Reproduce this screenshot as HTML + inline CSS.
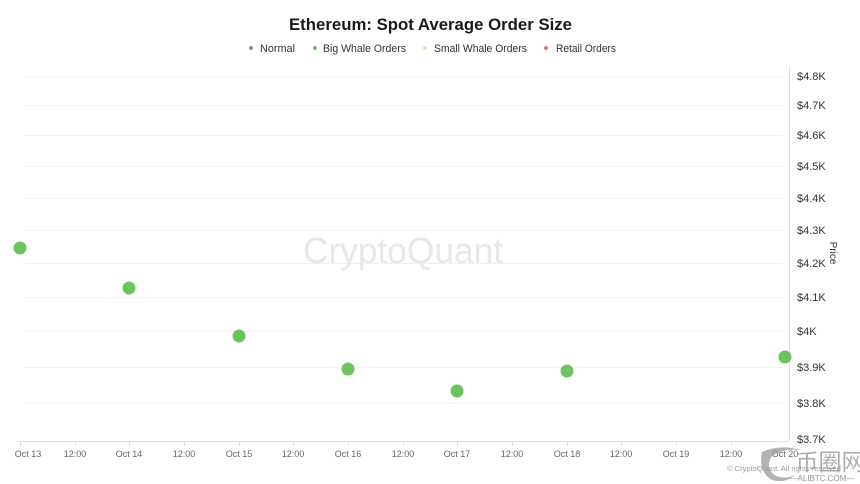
<!DOCTYPE html>
<html>
<head>
<meta charset="utf-8">
<style>
  html, body { margin:0; padding:0; background:#fff; }
  body { width:860px; height:484px; overflow:hidden; }
  svg { display:block; font-family:"Liberation Sans", "Noto Sans CJK SC", sans-serif; }
</style>
</head>
<body>
<svg width="860" height="484" viewBox="0 0 860 484" xmlns="http://www.w3.org/2000/svg">
  <rect width="860" height="484" fill="#ffffff"/>

  <!-- Title -->
  <text x="430.5" y="30" text-anchor="middle" font-size="17" font-weight="bold" fill="#1a1a1a" textLength="283" lengthAdjust="spacingAndGlyphs">Ethereum: Spot Average Order Size</text>

  <!-- Legend -->
  <g font-size="11" fill="#333">
    <circle cx="251" cy="48" r="2" fill="#8a8a8a"/>
    <text x="260" y="52" textLength="35" lengthAdjust="spacingAndGlyphs">Normal</text>
    <circle cx="315" cy="48" r="2" fill="#6cc35f"/>
    <text x="323" y="52" textLength="83" lengthAdjust="spacingAndGlyphs">Big Whale Orders</text>
    <circle cx="425" cy="48" r="2" fill="#efe6a6"/>
    <text x="434" y="52" textLength="93" lengthAdjust="spacingAndGlyphs">Small Whale Orders</text>
    <circle cx="546" cy="48" r="2" fill="#e8776a"/>
    <text x="556" y="52" textLength="60" lengthAdjust="spacingAndGlyphs">Retail Orders</text>
  </g>

  <!-- Gridlines -->
  <g stroke="#f1f1f1" stroke-width="1">
    <line x1="24" y1="76.5" x2="783" y2="76.5"/>
    <line x1="24" y1="105.5" x2="783" y2="105.5"/>
    <line x1="24" y1="135.5" x2="783" y2="135.5"/>
    <line x1="24" y1="166.5" x2="783" y2="166.5"/>
    <line x1="24" y1="198.5" x2="783" y2="198.5"/>
    <line x1="24" y1="230.5" x2="783" y2="230.5"/>
    <line x1="24" y1="263.5" x2="783" y2="263.5"/>
    <line x1="24" y1="297.5" x2="783" y2="297.5"/>
    <line x1="24" y1="331.5" x2="783" y2="331.5"/>
    <line x1="24" y1="367.5" x2="783" y2="367.5"/>
    <line x1="24" y1="403.5" x2="783" y2="403.5"/>
  </g>

  <!-- Watermark -->
  <text x="403" y="263" text-anchor="middle" font-size="36" fill="#e7e7ec" textLength="200" lengthAdjust="spacingAndGlyphs">CryptoQuant</text>

  <!-- Axes -->
  <line x1="789.5" y1="66" x2="789.5" y2="441" stroke="#e0e0e0" stroke-width="1"/>
  <line x1="17" y1="441.5" x2="789" y2="441.5" stroke="#e3e3e3" stroke-width="1"/>

  <!-- X ticks -->
  <g stroke="#e0e0e0" stroke-width="1">
    <line x1="20.5" y1="441" x2="20.5" y2="446"/>
    <line x1="75.5" y1="441" x2="75.5" y2="446"/>
    <line x1="129.5" y1="441" x2="129.5" y2="446"/>
    <line x1="184.5" y1="441" x2="184.5" y2="446"/>
    <line x1="239.5" y1="441" x2="239.5" y2="446"/>
    <line x1="293.5" y1="441" x2="293.5" y2="446"/>
    <line x1="348.5" y1="441" x2="348.5" y2="446"/>
    <line x1="403.5" y1="441" x2="403.5" y2="446"/>
    <line x1="457.5" y1="441" x2="457.5" y2="446"/>
    <line x1="512.5" y1="441" x2="512.5" y2="446"/>
    <line x1="567.5" y1="441" x2="567.5" y2="446"/>
    <line x1="621.5" y1="441" x2="621.5" y2="446"/>
    <line x1="676.5" y1="441" x2="676.5" y2="446"/>
    <line x1="731.5" y1="441" x2="731.5" y2="446"/>
  </g>

  <!-- X labels -->
  <g font-size="9" fill="#666" text-anchor="middle">
    <text x="28" y="457">Oct 13</text>
    <text x="75" y="457">12:00</text>
    <text x="129" y="457">Oct 14</text>
    <text x="184" y="457">12:00</text>
    <text x="239" y="457">Oct 15</text>
    <text x="293" y="457">12:00</text>
    <text x="348" y="457">Oct 16</text>
    <text x="403" y="457">12:00</text>
    <text x="457" y="457">Oct 17</text>
    <text x="512" y="457">12:00</text>
    <text x="567" y="457">Oct 18</text>
    <text x="621" y="457">12:00</text>
    <text x="676" y="457">Oct 19</text>
    <text x="731" y="457">12:00</text>
    <text x="785" y="457">Oct 20</text>
  </g>

  <!-- Y labels -->
  <g font-size="11" fill="#333">
    <text x="797" y="80">$4.8K</text>
    <text x="797" y="109">$4.7K</text>
    <text x="797" y="139">$4.6K</text>
    <text x="797" y="170">$4.5K</text>
    <text x="797" y="202">$4.4K</text>
    <text x="797" y="234">$4.3K</text>
    <text x="797" y="267">$4.2K</text>
    <text x="797" y="301">$4.1K</text>
    <text x="797" y="335">$4K</text>
    <text x="797" y="371">$3.9K</text>
    <text x="797" y="407">$3.8K</text>
    <text x="797" y="443">$3.7K</text>
  </g>

  <!-- Axis title -->
  <text x="0" y="0" font-size="10" fill="#333" text-anchor="middle" transform="translate(830,253) rotate(90)">Price</text>

  <!-- Data points -->
  <g fill="#6cc35f">
    <circle cx="20" cy="248" r="6.5"/>
    <circle cx="129" cy="288" r="6.5"/>
    <circle cx="239" cy="336" r="6.5"/>
    <circle cx="348" cy="369" r="6.5"/>
    <circle cx="457" cy="391" r="6.5"/>
    <circle cx="567" cy="371" r="6.5"/>
    <circle cx="785" cy="357" r="6.5"/>
  </g>

  <!-- Copyright -->
  <text x="784" y="471" text-anchor="middle" font-size="7.5" fill="#999">© CryptoQuant. All rights reserved</text>

  <!-- AliBTC overlay -->
  <path d="M762 452 Q780 444 800 450 Q784 448 772 456 Q764 468 776 476 Q788 480 796 474 Q786 484 772 480 Q758 472 762 452 Z" fill="#9a9a9a" opacity="0.75"/>
  <text x="830" y="470" text-anchor="middle" font-size="23" fill="#a0a0a0" opacity="0.85" font-family="'Noto Sans CJK SC', sans-serif">币圈网</text>
  <text x="822" y="481" text-anchor="middle" font-size="8" fill="#888" opacity="0.9">—ALIBTC.COM—</text>
</svg>
</body>
</html>
